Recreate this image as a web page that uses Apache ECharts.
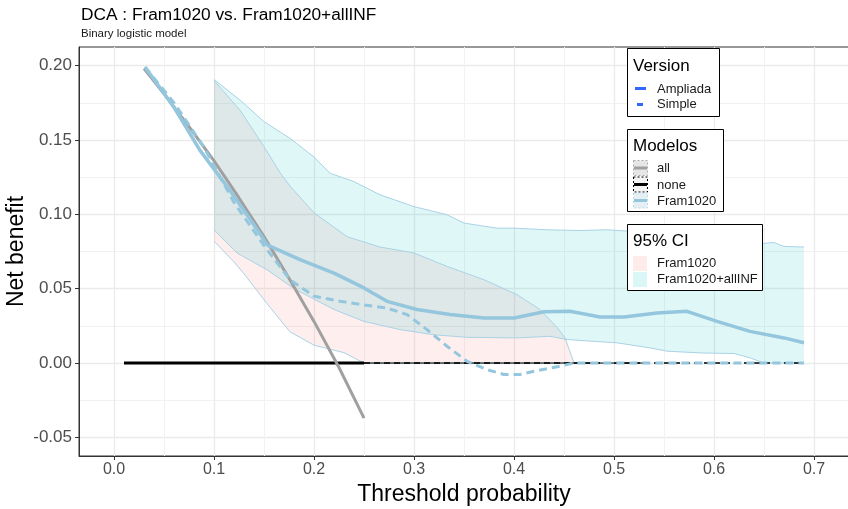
<!DOCTYPE html>
<html><head><meta charset="utf-8">
<script src="https://cdn.jsdelivr.net/npm/echarts@6/dist/echarts.min.js"></script>
<style>html,body{margin:0;padding:0;background:#fff}#c{width:848px;height:509px}</style>
</head><body><div id="c"></div>
<script>
// ---- tick labels ----
const xTicks = [0, 0.1, 0.2, 0.3, 0.4, 0.5, 0.6, 0.7];
const xMinor = [0.05, 0.15, 0.25, 0.35, 0.45, 0.55, 0.65];
const yTicks = [-0.05, 0, 0.05, 0.1, 0.15, 0.2];
const yMinor = [-0.025, 0.025, 0.075, 0.125, 0.175];

// ---- series values [threshold, net benefit] ----
const treatAll = [[0.03,0.198],[0.05,0.181],[0.075,0.159],[0.1,0.136],[0.125,0.111],[0.15,0.085],[0.175,0.057],[0.2,0.028],[0.225,-0.003],[0.25,-0.037]];
const treatNoneThick = [[0.01,0],[0.25,0]];
const treatNoneThin = [[0.25,0],[0.53,0]];
const treatNoneDash = [[0.25,0],[0.69,0]];
const framAmpliada = [[0.031,0.199],[0.06,0.172],[0.086,0.143],[0.116,0.116],[0.143,0.09],[0.153,0.0795],[0.186,0.0695],[0.22,0.0605],[0.25,0.0505],[0.273,0.0415],[0.303,0.036],[0.336,0.0326],[0.37,0.0303],[0.4,0.0303],[0.43,0.0345],[0.456,0.0348],[0.486,0.031],[0.51,0.031],[0.543,0.0337],[0.573,0.0348],[0.603,0.028],[0.636,0.0213],[0.67,0.0169],[0.69,0.0136]];
const framSimple = [[0.031,0.199],[0.06,0.175],[0.09,0.145],[0.12,0.108],[0.15,0.079],[0.176,0.056],[0.2,0.045],[0.226,0.0415],[0.25,0.039],[0.273,0.037],[0.293,0.0326],[0.313,0.0225],[0.333,0.0113],[0.353,0.0012],[0.373,-0.0044],[0.39,-0.0077],[0.406,-0.0077],[0.42,-0.0055],[0.446,-0.0021],[0.46,0],[0.5,0],[0.69,0]];
// 95% CI bands
const ciSimpleUpper = [[0.1,0.19],[0.126,0.170],[0.15,0.1455],[0.166,0.128],[0.176,0.119],[0.2,0.101],[0.233,0.085],[0.266,0.078],[0.3,0.074],[0.333,0.065],[0.37,0.056],[0.403,0.046],[0.426,0.036],[0.443,0.024],[0.451,0.017],[0.46,0]];
const ciSimpleLower = [[0.1,0.082],[0.12,0.068],[0.13,0.06],[0.153,0.04],[0.176,0.021],[0.2,0.012],[0.23,0.007],[0.25,0],[0.46,0]];
const ciAmpUpper = [[0.1,0.1907],[0.126,0.1768],[0.15,0.1623],[0.176,0.1511],[0.2,0.1385],[0.216,0.1276],[0.24,0.122],[0.266,0.1131],[0.3,0.1052],[0.333,0.0997],[0.35,0.0941],[0.383,0.0907],[0.4,0.0907],[0.433,0.0896],[0.466,0.0891],[0.493,0.0896],[0.53,0.088],[0.57,0.086],[0.61,0.083],[0.645,0.080],[0.653,0.0807],[0.66,0.081],[0.67,0.0784],[0.69,0.078]];
const ciAmpLower = [[0.1,0.0896],[0.123,0.074],[0.153,0.0627],[0.18,0.05],[0.22,0.036],[0.25,0.028],[0.286,0.0225],[0.32,0.019],[0.353,0.0173],[0.403,0.0169],[0.436,0.018],[0.453,0.0158],[0.48,0.0146],[0.503,0.0136],[0.536,0.0102],[0.553,0.008],[0.586,0.0068],[0.62,0.0064],[0.636,0.0035],[0.65,0],[0.69,0]];

const FONT = "'Liberation Sans', Arial, sans-serif";
const LB = '#94C6DD';
const PINK = 'rgba(248,118,109,0.12)';
const CYAN = 'rgba(0,191,196,0.12)';

function band(name, upper, lower, fill) {
  return {
    type: 'custom', name: name, silent: true, z: 1,
    xAxisIndex: 0, yAxisIndex: 0,
    data: [[0, 0]],
    renderItem: function (params, api) {
      const pts = upper.map(p => api.coord(p)).concat(lower.slice().reverse().map(p => api.coord(p)));
      return { type: 'polygon', shape: { points: pts }, style: { fill: fill } };
    }
  };
}
function line(data, color, width, type, z) {
  return { type: 'line', data: data, showSymbol: false, symbol: 'none', silent: true, z: z,
    xAxisIndex: 0, yAxisIndex: 0,
    lineStyle: { color: color, width: width, type: type, cap: 'butt' } };
}

const chart = echarts.init(document.getElementById('c'), null, { renderer: 'canvas' });
const tickFmtX = v => Number(v).toFixed(1);
const tickFmtY = v => Number(v).toFixed(2);

// legend graphic
const g = [];
function box(x, y, w, h) { g.push({ type: 'rect', shape: { x: x, y: y, width: w, height: h }, style: { fill: '#fff', stroke: '#000', lineWidth: 1 }, z: 100 }); }
function txt(t, x, y, size, color) { g.push({ type: 'text', x: x, y: y, style: { text: t, fontSize: size, fontFamily: FONT, fill: color || '#1a1a1a', verticalAlign: 'middle', align: 'left' }, z: 101 }); }
function seg(x1, y1, x2, y2, color, w, dash) { g.push({ type: 'line', shape: { x1: x1, y1: y1, x2: x2, y2: y2 }, style: { stroke: color, lineWidth: w, lineDash: dash || null }, z: 102 }); }
function sq(x, y, w, h, fill, stroke, dash) { g.push({ type: 'rect', shape: { x: x, y: y, width: w, height: h }, style: { fill: fill, stroke: stroke || null, lineWidth: 1, lineDash: dash || null }, z: 101 }); }

box(627.5, 48.5, 92, 68);
txt('Version', 633, 66, 17, '#000');
seg(635, 88.5, 646, 88.5, '#3366FF', 3);
txt('Ampliada', 657, 89, 13);
seg(637, 104.5, 643, 104.5, '#3366FF', 3);
txt('Simple', 657, 104, 13);

box(627.5, 129.5, 96, 82);
txt('Modelos', 633, 146, 17, '#000');
sq(633.5, 160.5, 14, 15, '#E6E6E6', '#AAAAAA', [2, 2]);
seg(634, 168, 647, 168, '#A0A0A0', 3);
txt('all', 657, 168, 13);
sq(633.5, 177, 14, 15, '#F4F4F4', '#000', [2, 2]);
seg(634, 184.5, 647, 184.5, '#000', 3);
txt('none', 657, 185, 13);
sq(633.5, 193, 14, 15, '#E6F0F4', '#B9DAE8', [2, 2]);
seg(634, 200.5, 647, 200.5, LB, 3);
txt('Fram1020', 657, 201, 13);

box(627.5, 224.5, 135, 66);
txt('95% CI', 633, 241, 17, '#000');
sq(633, 256, 14, 15, 'rgba(248,118,109,0.14)');
txt('Fram1020', 657, 263.5, 13);
sq(633, 272, 14, 15, 'rgba(0,191,196,0.14)');
txt('Fram1020+allINF', 657, 279, 13);

const option = {
  animation: false,
  backgroundColor: '#fff',
  textStyle: { fontFamily: FONT },
  title: {
    text: 'DCA : Fram1020 vs. Fram1020+allINF',
    subtext: 'Binary logistic model',
    left: 76, top: 2, itemGap: 4,
    textStyle: { fontFamily: FONT, fontSize: 17.3, fontWeight: 'normal', color: '#000' },
    subtextStyle: { fontFamily: FONT, fontSize: 11.5, color: '#1a1a1a' }
  },
  grid: { left: 79, top: 47, right: -1, bottom: 53, containLabel: false, outerBoundsMode: 'none',
    show: true, borderColor: '#333', borderWidth: 1, backgroundColor: 'transparent' },
  xAxis: [
    { type: 'value', min: -0.035, max: 0.735, position: 'bottom',
      axisLine: { show: true, onZero: false, lineStyle: { color: '#333', width: 1 } },
      axisTick: { show: true, length: 4, customValues: xTicks, lineStyle: { color: '#333' } },
      axisLabel: { customValues: xTicks, formatter: tickFmtX, fontSize: 16, color: '#4D4D4D', margin: 6, fontFamily: FONT },
      splitLine: { show: true, lineStyle: { color: '#EBEBEB', width: 1.3 } },
      name: 'Threshold probability', nameLocation: 'middle', nameGap: 27, nameMoveOverlap: false,
      nameTextStyle: { fontSize: 23, color: '#000', fontFamily: FONT } },
    { type: 'value', min: -0.035, max: 0.735, position: 'bottom',
      axisLine: { show: false }, axisTick: { show: false, customValues: xMinor },
      axisLabel: { show: false, customValues: xMinor },
      splitLine: { show: true, lineStyle: { color: '#F2F2F2', width: 1 } } }
  ],
  yAxis: [
    { type: 'value', min: -0.0625, max: 0.2125, position: 'left',
      axisLine: { show: true, onZero: false, lineStyle: { color: '#333', width: 1 } },
      axisTick: { show: true, length: 4, customValues: yTicks, lineStyle: { color: '#333' } },
      axisLabel: { customValues: yTicks, formatter: tickFmtY, fontSize: 17, color: '#4D4D4D', margin: 7, fontFamily: FONT },
      splitLine: { show: true, lineStyle: { color: '#EBEBEB', width: 1.3 } },
      name: 'Net benefit', nameLocation: 'middle', nameGap: 51, nameMoveOverlap: false,
      nameTextStyle: { fontSize: 23, color: '#000', fontFamily: FONT } },
    { type: 'value', min: -0.0625, max: 0.2125, position: 'left',
      axisLine: { show: false }, axisTick: { show: false, customValues: yMinor },
      axisLabel: { show: false, customValues: yMinor },
      splitLine: { show: true, lineStyle: { color: '#F2F2F2', width: 1 } } }
  ],
  series: [
    band('CI Fram1020', ciSimpleUpper, ciSimpleLower, PINK),
    band('CI Fram1020+allINF', ciAmpUpper, ciAmpLower, CYAN),
    line(ciSimpleUpper, '#A9D3E6', 1, 'solid', 2),
    line(ciSimpleLower, '#A9D3E6', 1, 'solid', 2),
    line(ciAmpUpper, '#A9D3E6', 1, 'solid', 2),
    line(ciAmpLower, '#A9D3E6', 1, 'solid', 2),
    line(treatNoneThick, '#000', 3, 'solid', 3),
    line(treatNoneThin, '#000', 1, 'solid', 3),
    line(treatNoneDash, '#000', 1.5, [6, 4], 3),
    line(treatAll, '#A0A0A0', 3, 'solid', 4),
    line(framSimple, LB, 3, [8, 5], 5),
    line(framAmpliada, LB, 3.5, 'solid', 6)
  ],
  graphic: g
};
chart.setOption(option);
</script></body></html>
